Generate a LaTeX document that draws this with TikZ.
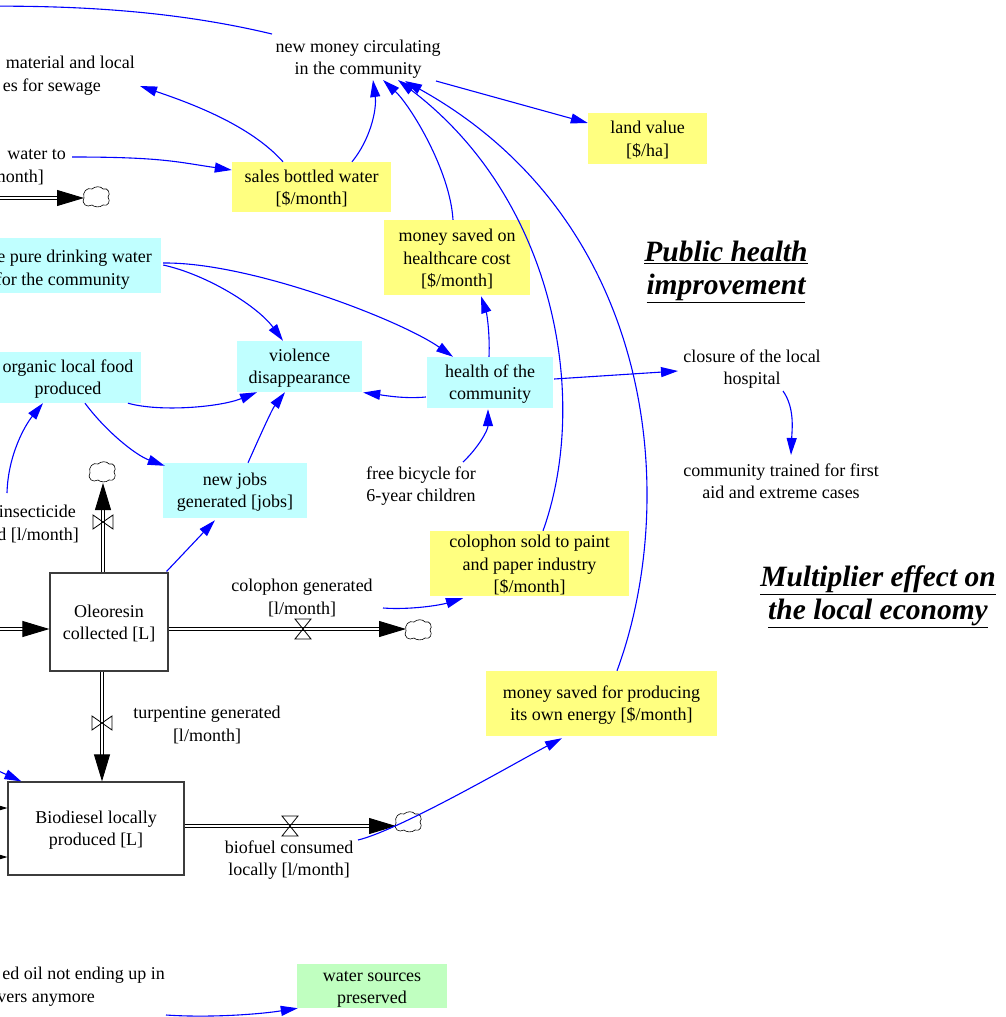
\documentclass[tikz,border=0pt]{standalone}
\usepackage{fontspec}
\setmainfont{Liberation Serif}
\usetikzlibrary{arrows.meta,calc}

\definecolor{auxyellow}{RGB}{255,255,128}
\definecolor{auxcyan}{RGB}{192,255,255}
\definecolor{auxgreen}{RGB}{192,255,192}
\definecolor{stockgray}{RGB}{60,60,60}

% invisible struts that even out the first and last line of box texts
\newcommand{\topstrut}{\rule{0pt}{16.5pt}}
\newcommand{\botstrut}{\rule[-3.5pt]{0pt}{0pt}}

\begin{document}
\begin{tikzpicture}[x=1pt,y=-1pt,
  every node/.style={font=\fontsize{18}{22.3}\selectfont, inner sep=0pt, align=center},
  varbox/.style={rectangle, inner sep=0pt, align=center},
  ybox/.style={varbox, fill=auxyellow},
  cbox/.style={varbox, fill=auxcyan},
  gbox/.style={varbox, fill=auxgreen},
  stock/.style={varbox, draw=stockgray, line width=1.2pt, fill=white},
  link/.style={draw=blue, line width=1.1pt, -{Triangle[length=17pt,width=10pt]}},
  pipeend/.style={draw=black, line width=0.9pt, double=white, double distance=2.4pt,
                  -{Triangle[length=27pt,width=16pt]}},
  title/.style={font=\fontsize{29.5}{33}\selectfont\bfseries\itshape, align=center},
  linel/.style={anchor=base east, align=right},
  cloudpic/.pic={\draw[line width=0.6pt, fill=white]
     (-12,1) .. controls (-14,-5) and (-9,-10) .. (-4,-8)
     .. controls (-1,-11) and (5,-11) .. (7,-8)
     .. controls (12,-10) and (15,-3) .. (12,0)
     .. controls (15,4) and (12,10) .. (7,8)
     .. controls (4,11) and (-2,10) .. (-4,8)
     .. controls (-9,11) and (-15,7) .. cycle;},
  hvalve/.pic={\draw[line width=0.8pt] (-8,-10) -- (8,-10) -- (-8,10) -- (8,10) -- cycle;},
  vvalve/.pic={\draw[line width=0.8pt] (-10,-7) -- (-10,7) -- (10,-7) -- (10,7) -- cycle;}
]
\useasboundingbox (0,0) rectangle (1005,1017);
\clip (0,0) rectangle (1005,1017);
\fill[white] (0,0) rectangle (1005,1017);

% ---------- auxiliary variables ----------
\node (newmoney) at (358,59) {new money circulating\\in the community};
\node[linel] (mat1) at (135,68) {material and local};
\node[linel] (mat2) at (101,91) {es for sewage};
\node[linel] (water1) at (66,159) {water to};
\node[linel] (water2) at (44,182) {month]};
\node[ybox, minimum width=159pt, minimum height=50pt] (sales) at (311.5,187)
  {\topstrut sales bottled water\\{[\$/month]}\botstrut};
\node[ybox, minimum width=119pt, minimum height=51pt] (land) at (647.5,138.5)
  {\topstrut land value\\{[\$/ha]}\botstrut};
\node[ybox, minimum width=146pt, minimum height=75pt] (hcost) at (457,257.5)
  {\topstrut money saved on\\healthcare cost\\{[\$/month]}\botstrut};
\node[cbox, minimum width=171pt, minimum height=55pt] (pure) at (75.5,265.5) {};
\node[linel] (pure1) at (152,262) {e pure drinking water};
\node[linel] (pure2) at (130,285) {for the community};
\node[cbox, minimum width=125pt, minimum height=51pt] (viol) at (299.5,366.5)
  {\topstrut violence\\disappearance\botstrut};
\node[cbox, minimum width=146pt, minimum height=51pt] (food) at (68,377.5)
  {\topstrut organic local food\\produced\botstrut};
\node[cbox, minimum width=126pt, minimum height=51pt] (health) at (490,382.5)
  {\topstrut health of the\\community\botstrut};
\node[cbox, minimum width=144pt, minimum height=55pt] (jobs) at (235,490.5)
  {\topstrut new jobs\\generated [jobs]\botstrut};
\node[ybox, minimum width=199pt, minimum height=65pt] (colsold) at (529.5,563.5)
  {\topstrut colophon sold to paint\\and paper industry\\{[\$/month]}\botstrut};
\node[ybox, minimum width=231pt, minimum height=65pt] (energy) at (601.5,703.5)
  {\topstrut money saved for producing\\its own energy [\$/month]\botstrut};
\node[gbox, minimum width=150pt, minimum height=44pt] (wsrc) at (372,986)
  {\topstrut water sources\\preserved\botstrut};
\node (closure) at (752,369) {closure of the local\\hospital};
\node (trained) at (781,481) {community trained for first\\aid and extreme cases};
\node (bike) at (421,486) {free bicycle for\\6-year children};
\node[linel] (insect1) at (76,517) {insecticide};
\node[linel] (insect2) at (79,540) {d [l/month]};
\node[linel] (oil1) at (165,979) {ed oil not ending up in};
\node[linel] (oil2) at (95,1002) {vers anymore};

% ---------- section titles ----------
\node[title] (pubhealth) at (726,272) {\underline{Public health}\\\underline{improvement}};
\node[title] (multiplier) at (878,596.5) {\underline{Multiplier effect on}\\\underline{the local economy}};

% ---------- stocks ----------
\node[stock, minimum width=118pt, minimum height=98pt] (oleo) at (109,622)
  {\topstrut Oleoresin\\collected [L]\botstrut};
\node[stock, minimum width=176pt, minimum height=93pt] (bio) at (96,828.5)
  {\topstrut Biodiesel locally\\produced [L]\botstrut};

% ---------- flows ----------
\coordinate (srcA) at (-30,198);
\coordinate (cloudA) at (96,197);
\coordinate (cloudB) at (102,472);
\coordinate (cloudC) at (418,630);
\coordinate (cloudD) at (408,822);
\coordinate (srcB) at (-30,629);
\coordinate (srcC) at (-30,808);
\coordinate (srcD) at (-30,857);

\draw[pipeend] (srcA) -- ($(cloudA)+(-12,1)$);
\draw[pipeend] ($(oleo.north)+(-6,0)$) -- ($(cloudB)+(1,11)$);
\draw[pipeend] ($(oleo.east)+(0,7)$) -- ($(cloudC)+(-12,-1)$);
\draw[pipeend] ($(oleo.south)+(-7,0)$) -- ($(bio.north)+(6,0)$);
\draw[pipeend] ($(bio.east)+(0,-2.5)$) -- ($(cloudD)+(-12,4)$);
\draw[pipeend] (srcB) -- ($(oleo.west)+(0,7)$);
\draw[pipeend] (srcC) -- ($(bio.west)+(0,-20.5)$);
\draw[pipeend] (srcD) -- ($(bio.west)+(0,28.5)$);

\pic at (cloudA) {cloudpic};
\pic at (cloudB) {cloudpic};
\pic at (cloudC) {cloudpic};
\pic at (cloudD) {cloudpic};

\pic at (303,629) {hvalve};
\pic at (290,826) {hvalve};
\pic at (103,522) {vvalve};
\pic at (102,723) {vvalve};

\node (colgen) at (302,598) {colophon generated\\{[l/month]}};
\node (turp) at (207,725) {turpentine generated\\{[l/month]}};
\node (biofuel) at (289,860) {biofuel consumed\\locally [l/month]};

% ---------- causal links ----------
\coordinate (offleft) at (-60,7);
\coordinate (biosrc) at (-30,758);

\draw[link] ($(water1.base east)+(6,-2)$) .. controls +(90,0) and +(-55,-8) .. ($(sales.west)+(0,-17)$);
\draw[link] ($(sales.north)+(40.5,0)$) .. controls +(18,-22) and +(4,30) .. ($(newmoney)+(15,21)$);
\draw[link] ($(sales.north)+(-28.5,0)$) .. controls +(-33,-37) and +(50,17) .. ($(mat2.base east)+(39,-5)$);
\draw[link] ($(newmoney)+(-86,-25)$) .. controls +(-92,-22) and +(140,-3) .. (offleft);
\draw[link] ($(newmoney)+(78,22)$) -- ($(land.west)+(0,-15.5)$);
\draw[link] ($(hcost.north)+(-4,0)$) .. controls +(-3,-50) and +(27,25) .. ($(newmoney)+(25,21)$);
\draw[link] ($(colsold.north)+(13.5,0)$) .. controls +(47,-131) and +(158,120) .. ($(newmoney)+(40,21)$);
\draw[link] ($(energy.north)+(15.5,0)$) .. controls +(63,-171) and +(252,140) .. ($(newmoney)+(47,22)$);

\draw[link] ($(pure.east)+(2,-0.5)$) .. controls +(45,10) and +(-25,-34) .. ($(viol.north)+(-16.5,0)$);
\draw[link] ($(pure.east)+(2,-2.5)$) .. controls +(87,-1) and +(-53,-37) .. ($(health.north)+(-37,0)$);
\draw[link] ($(food.south)+(60,0)$) .. controls +(32,9) and +(-37,15) .. ($(viol.south)+(-42.5,0)$);
\draw[link] ($(food.south)+(17,0)$) .. controls +(20,27) and +(-30,-11) .. ($(jobs.north west)+(2,3)$);
\draw[link] ($(jobs.north)+(13,0)$) .. controls +(12,-27) and +(-13,17) .. ($(viol.south)+(-14.5,0)$);
\draw[link] ($(insect1.base east)+(-69,-24)$) .. controls +(1,-38) and +(-18,22) .. ($(food.south)+(-25,0)$);
\draw[link] ($(health.west)+(-1,14.5)$) .. controls +(-21,2) and +(22,3) .. ($(viol.east)+(1,26)$);
\draw[link] ($(health.north)+(-1,0)$) .. controls +(1,-22) and +(6,18) .. ($(hcost.south)+(24,1)$);
\draw[link] ($(bike)+(42,-24)$) .. controls +(15,-14) and +(0,21) .. ($(health.south)+(-2,1)$);
\draw[link] ($(health.east)+(1,-3.5)$) -- ($(closure)+(-74,2)$);
\draw[link] ($(closure)+(31,22)$) .. controls +(12,17) and +(1,-25) .. ($(trained)+(10,-26)$);
\draw[link] ($(oleo.north east)+(-2,-1)$) -- ($(jobs.south)+(-20,2)$);
\draw[link] ($(colgen)+(81,10)$) .. controls +(27,2) and +(-23,7) .. ($(colsold.south)+(-66.5,2)$);
\draw[link] ($(biofuel)+(69,-20)$) .. controls +(42,-10) and +(-42,22) .. ($(energy.south)+(-39.5,2)$);
\draw[link] ($(oil2.base east)+(71,13)$) .. controls +(44,3) and +(-38,6) .. ($(wsrc.south west)+(1,0)$);
\draw[link] (biosrc) -- ($(bio.north west)+(14,0)$);
\end{tikzpicture}
\end{document}
